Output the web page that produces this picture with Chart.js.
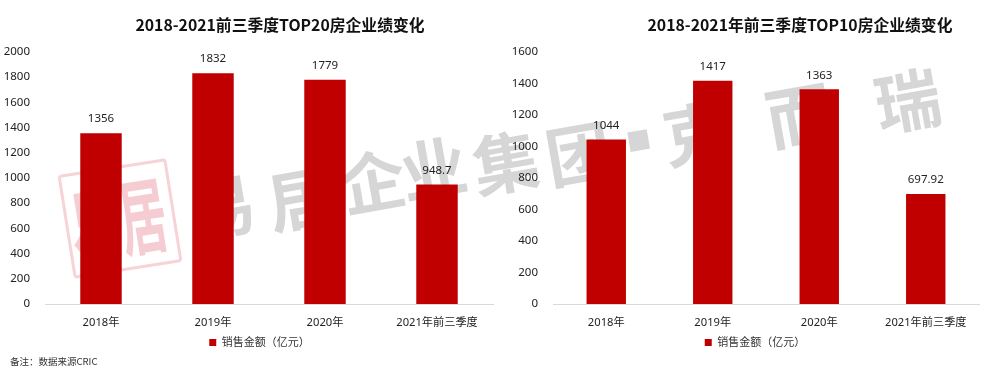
<!DOCTYPE html>
<html>
<head>
<meta charset="utf-8">
<script src="https://cdn.jsdelivr.net/npm/chart.js@4/dist/chart.umd.min.js"></script>
<style>
html, body { margin: 0; padding: 0; background: #fff; overflow: hidden; width: 990px; height: 376px; }
body { position: relative; font-family: "Noto Sans CJK SC", sans-serif; }
.box { position: absolute; top: 0; width: 495px; height: 376px; }
.title { position: absolute; top: 14px; font-size: 15.8px; line-height: 22px; font-weight: 700; color: #111; white-space: nowrap; transform: translateX(-50%); }
.note { position: absolute; left: 10px; top: 354px; font-size: 9.5px; line-height: 14px; color: #333; }
.wm { position: absolute; font-size: 66px; line-height: 66px; font-weight: 700; color: #d6d6d6; transform: translate(-50%, -50%) rotate(-10deg); }
.stamp { position: absolute; left: 65px; top: 166px; width: 110px; height: 105px; border: 3px solid #f6d3d7; border-radius: 4px; transform: rotate(-9deg); box-sizing: border-box; }
.stamp span { position: absolute; color: #f4ccd1; font-weight: 700; font-size: 52px; line-height: 52px; transform: scale(0.9, 1.6); }
</style>
</head>
<body>
<div class="stamp"><span style="left:-1px;top:24px">易</span><span style="left:49px;top:21px">居</span></div>
<span class="wm" style="left:222px;top:203px">易</span>
<span class="wm" style="left:300px;top:195px">居</span>
<span class="wm" style="left:372px;top:178px">企</span>
<span class="wm" style="left:433px;top:165px">业</span>
<span class="wm" style="left:505px;top:159px">集</span>
<span class="wm" style="left:578px;top:150px">团</span>
<span class="wm" style="left:638px;top:137px;font-size:72px">▪</span>
<span class="wm" style="left:695px;top:130px">克</span>
<span class="wm" style="left:798px;top:112px">而</span>
<span class="wm" style="left:907px;top:97px">瑞</span>

<div class="box" style="left:0"><canvas id="chartTop20"></canvas></div>
<div class="box" style="left:495px"><canvas id="chartTop10"></canvas></div>

<div class="title" style="left:280px">2018-2021前三季度TOP20房企业绩变化</div>
<div class="title" style="left:800px">2018-2021年前三季度TOP10房企业绩变化</div>
<div class="note">备注：数据来源CRIC</div>

<script>
var categories = ["2018年", "2019年", "2020年", "2021年前三季度"];
var seriesName = "销售金额（亿元）";
var top20Values = [1356, 1832, 1779, 948.7];
var top10Values = [1044, 1417, 1363, 697.92];
var top20Ticks = { max: 2000, step: 200 };
var top10Ticks = { max: 1600, step: 200 };

var fontName = '"Noto Sans", "Noto Sans CJK SC", sans-serif';

// values above the bars
var barLabels = {
    id: "barLabels",
    afterDatasetsDraw: function (chart) {
        var ctx = chart.ctx;
        var meta = chart.getDatasetMeta(0);
        ctx.save();
        ctx.font = "11.5px " + fontName;
        ctx.fillStyle = "#222";
        ctx.textAlign = "center";
        ctx.textBaseline = "middle";
        meta.data.forEach(function (bar, i) {
            ctx.fillText(String(chart.data.datasets[0].data[i]), bar.x, bar.y - 14);
        });
        ctx.restore();
    },
};

// legend is not centred on the canvas in the reference
var legendShift = {
    id: "legendShift",
    afterLayout: function (chart, args, opts) {
        chart.legend.left += opts.dx;
        chart.legend.right += opts.dx;
    },
};

function makeChart(id, values, ticks, axisWidth, rightPad, legendDx) {
    return new Chart(document.getElementById(id), {
        type: "bar",
        data: {
            labels: categories,
            datasets: [
                {
                    label: seriesName,
                    data: values,
                    backgroundColor: "#c00000",
                    categoryPercentage: 1,
                    barPercentage: 0.37,
                },
            ],
        },
        plugins: [barLabels, legendShift],
        options: {
            responsive: true,
            maintainAspectRatio: false,
            animation: false,
            layout: { padding: { top: 52, right: rightPad, bottom: 18, left: 0 } },
            plugins: {
                title: { display: false },
                tooltip: { enabled: false },
                legendShift: { dx: legendDx },
                legend: {
                    position: "bottom",
                    labels: {
                        boxWidth: 7,
                        boxHeight: 7,
                        padding: 4,
                        color: "#333",
                        font: { family: fontName, size: 11 },
                    },
                },
            },
            scales: {
                x: {
                    grid: { display: false, drawTicks: false },
                    border: { color: "#d9d9d9" },
                    ticks: { color: "#222", padding: 12, maxRotation: 0, font: { family: fontName, size: 11.2 } },
                    afterFit: function (axis) { axis.height = 29; },
                },
                y: {
                    min: 0,
                    max: ticks.max,
                    grid: { display: false, drawTicks: false },
                    border: { display: false },
                    ticks: {
                        stepSize: ticks.step,
                        color: "#222",
                        padding: 15,
                        font: { family: fontName, size: 11.5 },
                        callback: function (value) { return String(value); },
                    },
                    afterFit: function (axis) { axis.width = axisWidth; },
                },
            },
        },
    });
}

makeChart("chartTop20", top20Values, top20Ticks, 45, 2, 13);
makeChart("chartTop10", top10Values, top10Ticks, 58, 11, 18);
</script>
</body>
</html>
